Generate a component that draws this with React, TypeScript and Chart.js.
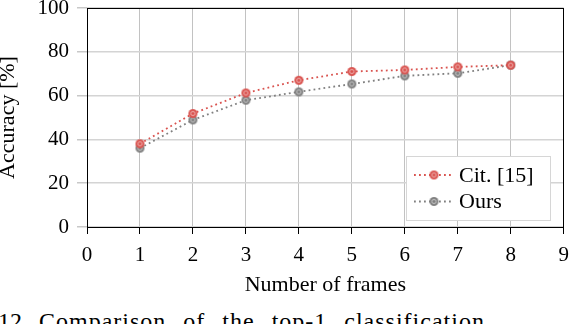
import React, { useEffect, useRef } from "react";
import { Chart, registerables } from "chart.js";

Chart.register(...registerables);

// ---- data ----
const frames = [1, 2, 3, 4, 5, 6, 7, 8];
const citValues = [38, 51.8, 61.2, 67, 71, 71.7, 73.1, 73.9];
const oursValues = [36, 48.9, 57.9, 61.7, 65.3, 69, 70.2, 73.9];
const seriesLabels = ["Cit. [15]", "Ours"];
const seriesColors = ["#d9534f", "#808080"];
const xMin = 0;
const xMax = 9;
const yMin = 0;
const yMax = 100;
const yStep = 20;
const xTitle = "Number of frames";
const yTitle = "Accuracy [%]";
const captionNumber = "12.";
const captionText = "Comparison of the top-1 classification";

const FONT = '"Liberation Serif", "Times New Roman", serif';

function makeMarker(color: string): HTMLCanvasElement {
  const c = document.createElement("canvas");
  c.width = 11;
  c.height = 11;
  const g = c.getContext("2d")!;
  g.beginPath();
  g.arc(5.5, 5.5, 4.5, 0, Math.PI * 2);
  g.fillStyle = color;
  g.fill();
  g.beginPath();
  g.arc(5.5, 5.5, 2.1, 0, Math.PI * 2);
  g.strokeStyle = "rgba(255,255,255,0.55)";
  g.lineWidth = 1;
  g.stroke();
  return c;
}

const boxLegend = {
  id: "boxLegend",
  afterDatasetsDraw(chart: any) {
    const { ctx, chartArea } = chart;
    const w = 144;
    const h = 64;
    const x = Math.round(chartArea.right - 14 - w);
    const y = Math.round(chartArea.bottom - 7 - h);
    ctx.save();
    ctx.fillStyle = "#ffffff";
    ctx.fillRect(x, y, w, h);
    ctx.strokeStyle = "#d6d6d6";
    ctx.lineWidth = 1;
    ctx.strokeRect(x + 0.5, y + 0.5, w, h);
    chart.data.datasets.forEach((ds: any, i: number) => {
      const cy = y + 19 + i * 26.5;
      ctx.setLineDash(ds.borderDash || []);
      ctx.strokeStyle = ds.borderColor;
      ctx.lineWidth = ds.borderWidth;
      ctx.beginPath();
      ctx.moveTo(x + 8, cy);
      ctx.lineTo(x + 48, cy);
      ctx.stroke();
      ctx.setLineDash([]);
      const img = ds.pointStyle as HTMLCanvasElement;
      ctx.drawImage(img, x + 28 - img.width / 2, cy - img.height / 2);
      ctx.fillStyle = "#000";
      ctx.font = `22px ${FONT}`;
      ctx.textBaseline = "middle";
      ctx.textAlign = "left";
      ctx.fillText(ds.label, x + 53, cy + 1);
    });
    ctx.restore();
  },
};

const frameBorder = {
  id: "frameBorder",
  afterDraw(chart: any) {
    const { ctx, chartArea } = chart;
    const l = Math.round(chartArea.left) + 0.5;
    const t = Math.round(chartArea.top) + 0.5;
    const r = Math.round(chartArea.right) - 0.5;
    const b = Math.round(chartArea.bottom) + 0.5;
    ctx.save();
    ctx.strokeStyle = "#000";
    ctx.lineWidth = 1;
    ctx.strokeRect(l, t, r - l, b - t);
    ctx.restore();
  },
};

export default function App() {
  const ref = useRef<HTMLCanvasElement | null>(null);

  useEffect(() => {
    if (!ref.current) return;
    const markers = seriesColors.map(makeMarker);
    const series = [citValues, oursValues];
    const chart = new Chart(ref.current, {
      type: "line",
      data: {
        datasets: series.map((vals, i) => ({
          label: seriesLabels[i],
          data: frames.map((f, j) => ({ x: f, y: vals[j] })),
          borderColor: seriesColors[i],
          backgroundColor: seriesColors[i],
          borderWidth: 1.8,
          borderDash: [1.8, 3.2],
          borderCapStyle: "butt",
          pointStyle: markers[i] as any,
          pointRadius: 4.5,
          tension: 0,
          fill: false,
        })),
      },
      options: {
        responsive: false,
        animation: false,
        layout: { padding: { top: 8, right: 6, left: 0, bottom: 0 } },
        plugins: {
          legend: { display: false },
          tooltip: { enabled: false },
        },
        scales: {
          x: {
            type: "linear",
            min: xMin,
            max: xMax,
            border: { display: false },
            grid: {
              color: "#c2c2c2",
              lineWidth: 1,
              tickColor: "#000",
              tickLength: 7,
              drawTicks: true,
            },
            ticks: {
              stepSize: 1,
              color: "#000",
              padding: 9,
              font: { family: FONT, size: 21 },
              maxRotation: 0,
            },
            title: {
              display: true,
              text: xTitle,
              color: "#000",
              font: { family: FONT, size: 22, lineHeight: 0.7 },
              padding: { top: 0, bottom: 7 },
            },
            afterFit(scale: any) {
              scale.height = 73;
              scale.paddingLeft = 0;
              scale.paddingRight = 0;
            },
          },
          y: {
            type: "linear",
            min: yMin,
            max: yMax,
            border: { display: false },
            grid: {
              color: "#d4d4d4",
              lineWidth: 1.5,
              tickColor: "#c8c8c8",
              tickLength: 10,
              drawTicks: true,
            },
            ticks: {
              stepSize: yStep,
              color: "#000",
              padding: 8,
              font: { family: FONT, size: 21 },
            },
            title: {
              display: true,
              text: yTitle,
              color: "#000",
              font: { family: FONT, size: 22, lineHeight: 0.7 },
              padding: { top: 1, bottom: 0 },
            },
            afterFit(scale: any) {
              scale.width = 87;
              scale.paddingTop = 0;
              scale.paddingBottom = 0;
            },
          },
        },
      },
      plugins: [boxLegend, frameBorder],
    } as any);
    return () => chart.destroy();
  }, []);

  return (
    <div style={{ position: "absolute", left: 0, top: 0, width: 570, height: 324, overflow: "hidden", background: "#fff" }}>
      <canvas ref={ref} width={570} height={300} style={{ position: "absolute", left: 0, top: 0, width: 570, height: 300 }} />
      <div
        style={{
          position: "absolute",
          left: -2,
          top: 309,
          fontFamily: FONT,
          fontSize: 24,
          lineHeight: "24px",
          color: "#000",
          whiteSpace: "nowrap",
        }}
      >
        {captionNumber}
      </div>
      <div
        style={{
          position: "absolute",
          left: 39,
          top: 309,
          fontFamily: FONT,
          fontSize: 24,
          lineHeight: "24px",
          letterSpacing: "1px",
          wordSpacing: "10px",
          color: "#000",
          whiteSpace: "nowrap",
        }}
      >
        {captionText}
      </div>
    </div>
  );
}
